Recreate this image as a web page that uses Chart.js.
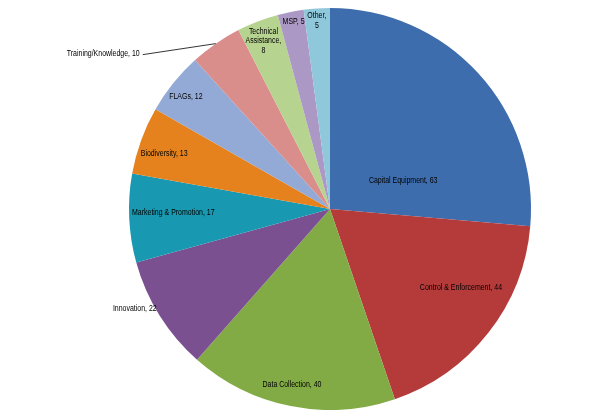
<!DOCTYPE html>
<html>
<head>
<meta charset="utf-8">
<script src="https://cdn.jsdelivr.net/npm/chart.js@4"></script>
<style>
  html, body { margin: 0; padding: 0; background: #fff; }
  #wrap { width: 615px; height: 410px; }
</style>
</head>
<body>
<div id="wrap"><canvas id="pieChart"></canvas></div>
<script>
const categories = [
    "Capital Equipment", "Control & Enforcement", "Data Collection", "Innovation",
    "Marketing & Promotion", "Biodiversity", "FLAGs", "Training/Knowledge",
    "Technical Assistance", "MSP", "Other"
];
const counts = [63, 44, 40, 22, 17, 13, 12, 10, 8, 5, 5];
const sliceColors = [
    "#3E6DAD", "#B53B3B", "#82AB45", "#7A5091", "#1899B1", "#E5821E",
    "#93AAD6", "#D98E8C", "#B6D38F", "#AB98C4", "#8EC8DA"
];

// where each label sits: [fraction of radius, angle in degrees from 3 o'clock]
const labelSpots = [
    [0.39, -21], [0.76, 31], [0.895, 102.2], [1.09, 153], [0.78, 178.5], [0.87, 198.5],
    [0.91, 218], [null, null], [0.90, 248.4], [0.95, 259], [0.94, 266]
];

// narrow text, close to the Calibri look
const drawText = (c, str, x, y, align) => {
    const sx = 0.82;
    c.save();
    c.translate(x, y);
    c.scale(sx, 1);
    c.textAlign = align;
    c.fillText(str, 0, 0);
    c.restore();
};

const labelPlugin = {
    id: "sliceLabels",
    afterDatasetsDraw(chart) {
        const ctx = chart.ctx;
        const arcs = chart.getDatasetMeta(0).data;
        const cx = arcs[0].x, cy = arcs[0].y, r = arcs[0].outerRadius;
        ctx.save();
        ctx.font = "8.5px 'Liberation Sans', sans-serif";
        ctx.fillStyle = "#000";
        ctx.textBaseline = "middle";
        categories.forEach((name, i) => {
            const text = name + ", " + counts[i];
            if (labelSpots[i][0] === null) {
                // outside label with leader line
                const a = (arcs[i].startAngle + arcs[i].endAngle) / 2;
                const ex = cx + Math.cos(a) * r;
                const ey = cy + Math.sin(a) * r;
                const lx = ex - 73, ly = ey + 11;
                ctx.strokeStyle = "#000";
                ctx.lineWidth = 0.8;
                ctx.beginPath();
                ctx.moveTo(ex, ey);
                ctx.lineTo(lx, ly);
                ctx.stroke();
                drawText(ctx, text, lx - 3, ly - 1, "right");
                return;
            }
            const ang = labelSpots[i][1] * Math.PI / 180;
            const x = cx + Math.cos(ang) * r * labelSpots[i][0];
            const y = cy + Math.sin(ang) * r * labelSpots[i][0];
            let lines = [text];
            if (name === "Technical Assistance") lines = ["Technical", "Assistance,", String(counts[i])];
            if (name === "Other") lines = ["Other,", String(counts[i])];
            const lh = 9.5;
            lines.forEach((ln, k) => {
                drawText(ctx, ln, x, y + (k - (lines.length - 1) / 2) * lh, "center");
            });
        });
        ctx.restore();
    }
};

const ctx = document.getElementById("pieChart").getContext("2d");
new Chart(ctx, {
    type: "pie",
    data: {
        labels: categories,
        datasets: [{
            data: counts,
            backgroundColor: sliceColors,
            borderWidth: 0
        }]
    },
    options: {
        responsive: true,
        maintainAspectRatio: false,
        animation: false,
        layout: { padding: { left: 45, right: 0, top: 8, bottom: 0 } },
        plugins: {
            legend: { display: false },
            tooltip: { enabled: false }
        }
    },
    plugins: [labelPlugin]
});
</script>
</body>
</html>
